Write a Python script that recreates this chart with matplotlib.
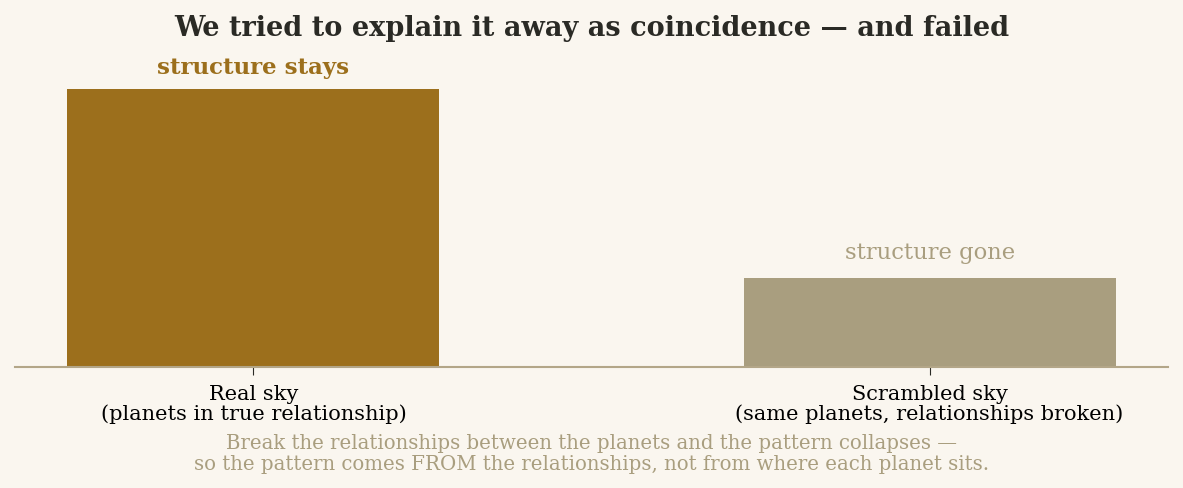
import matplotlib.pyplot as plt

# Data
categories = ['Real sky\n(planets in true relationship)',
              'Scrambled sky\n(same planets, relationships broken)']
values = [1.0, 0.32]
bar_labels = ['structure stays', 'structure gone']

bg = '#faf6ef'
gold = '#9c6f1c'
taupe = '#a99e7f'

plt.rcParams['font.family'] = 'DejaVu Serif'

fig = plt.figure(figsize=(11.83, 4.89), dpi=100, facecolor=bg)
ax = fig.add_axes([15 / 1183, 1 - 368 / 489, 1153 / 1183, 320 / 489])
ax.set_facecolor(bg)

x = list(range(len(categories)))
ax.bar(x, values, width=0.55, color=[gold, taupe], zorder=2)
ax.set_ylim(0, 1.15)

# Labels above bars
ax.text(x[0], values[0] + 0.04, bar_labels[0], ha='center', va='bottom',
        fontsize=16.5, fontweight='bold', color=gold)
ax.text(x[1], values[1] + 0.055, bar_labels[1], ha='center', va='bottom',
        fontsize=16.3, color=taupe)

ax.set_xticks(x)
ax.set_xticklabels(categories, fontsize=15, linespacing=1.07)
ax.tick_params(axis='x', length=6, color='#2a2a25', pad=6)
ax.set_yticks([])
for side in ['top', 'left', 'right']:
    ax.spines[side].set_visible(False)
ax.spines['bottom'].set_color('#b3a688')
ax.spines['bottom'].set_linewidth(1.5)

fig.text(0.5, 1 - 28 / 489, 'We tried to explain it away as coincidence \u2014 and failed',
         ha='center', va='center', fontsize=19.5, fontweight='bold', color='#2a2a25')
fig.text(0.5, 1 - 454 / 489,
         'Break the relationships between the planets and the pattern collapses \u2014\n'
         'so the pattern comes FROM the relationships, not from where each planet sits.',
         ha='center', va='center', fontsize=14.25, color=taupe, linespacing=1.17)

fig.savefig('out.png', dpi=100, facecolor=bg)
